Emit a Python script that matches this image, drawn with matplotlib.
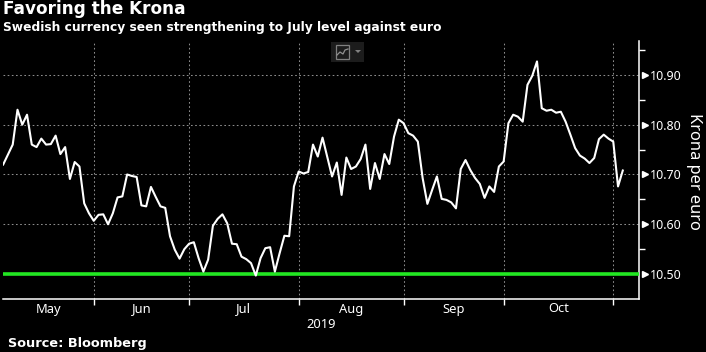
import matplotlib.pyplot as plt
import matplotlib.patches as patches
import pandas as pd

start_date = '2019-05-07'
krona = [10.72, 10.74, 10.76, 10.83, 10.80, 10.82, 10.76, 10.755, 10.772, 10.76,
         10.761, 10.778, 10.741, 10.755, 10.691, 10.725, 10.716, 10.642, 10.622, 10.607,
         10.619, 10.62, 10.60, 10.622, 10.654, 10.656, 10.70, 10.697, 10.695, 10.638,
         10.636, 10.675, 10.655, 10.636, 10.633, 10.576, 10.549, 10.531, 10.55, 10.561,
         10.564, 10.532, 10.505, 10.529, 10.597, 10.611, 10.62, 10.602, 10.561, 10.56,
         10.535, 10.53, 10.522, 10.497, 10.532, 10.552, 10.554, 10.505, 10.542, 10.577,
         10.576, 10.676, 10.706, 10.702, 10.705, 10.76, 10.736, 10.774, 10.735, 10.696,
         10.724, 10.659, 10.734, 10.711, 10.716, 10.731, 10.76, 10.671, 10.723, 10.691,
         10.741, 10.721, 10.776, 10.81, 10.803, 10.783, 10.778, 10.766, 10.693, 10.641,
         10.669, 10.696, 10.651, 10.649, 10.644, 10.632, 10.711, 10.729, 10.709, 10.693,
         10.681, 10.653, 10.676, 10.665, 10.716, 10.726, 10.803, 10.82, 10.816, 10.806,
         10.88, 10.898, 10.927, 10.833, 10.828, 10.83, 10.824, 10.826, 10.806, 10.78,
         10.753, 10.738, 10.732, 10.723, 10.733, 10.771, 10.78, 10.772, 10.766, 10.676,
         10.708]
target = 10.50
y_ticks = [10.50, 10.60, 10.70, 10.80, 10.90]
y_minor = [10.55, 10.65, 10.75, 10.85, 10.95]
month_starts = ['2019-06-01', '2019-07-01', '2019-08-01', '2019-09-01', '2019-10-01', '2019-11-01']
month_names = ['May', 'Jun', 'Jul', 'Aug', 'Sep', 'Oct']

dates = pd.bdate_range(start_date, periods=len(krona))
x = list(range(len(krona)))
month_pos = [int(dates.searchsorted(pd.Timestamp(m))) for m in month_starts]

W, H = 706, 352
fig = plt.figure(figsize=(W / 100, H / 100), dpi=100, facecolor='black')
ax = fig.add_axes([3 / W, 1 - 299 / H, 636 / W, 258 / H], facecolor='black')

ax.grid(True, color='#8c8c8c', linestyle=(0, (1.6, 2.4)), linewidth=0.75)
ax.set_axisbelow(True)
ax.axhline(target, color='#22e622', linewidth=2.6, zorder=3)
ax.plot(x, krona, color='white', linewidth=1.5, zorder=4)

ax.set_xlim(-0.04, 133.4)
ax.set_ylim(10.45, 10.968)

for s in ['top', 'left']:
    ax.spines[s].set_visible(False)
for s in ['bottom', 'right']:
    ax.spines[s].set_color('white')
    ax.spines[s].set_linewidth(1.1)

ax.set_xticks(month_pos)
ax.set_xticklabels([])
ax.tick_params(axis='x', color='white', length=4, width=1)
ax.yaxis.tick_right()
ax.set_yticks(y_ticks)
ax.set_yticklabels(['%.2f' % v for v in y_ticks], color='white', fontsize=9, family='Noto Sans')
ax.set_yticks(y_minor, minor=True)
ax.tick_params(axis='y', which='major', color='white', length=0, pad=7.5)
ax.tick_params(axis='y', which='minor', color='white', length=4, width=1)

# little arrow heads on the major y ticks
ax.plot([1.009] * len(y_ticks), y_ticks, marker='>', color='white', markersize=5, linestyle='none',
        transform=ax.get_yaxis_transform(), clip_on=False, zorder=5)

def px(xp, yp):
    return xp / W, 1 - yp / H

edges = [0] + month_pos
for i, name in enumerate(month_names):
    mid = (edges[i] + edges[i + 1]) / 2
    ax.text(mid, -10 / 258, name, color='white', fontsize=9.3, family='Noto Sans', ha='center', va='center',
            transform=ax.get_xaxis_transform())

fig.text(*px(321, 325), '2019', color='white', fontsize=9.3, family='Noto Sans', ha='center', va='center')
fig.text(*px(694, 171), 'Krona per euro', color='white', fontsize=11.8, family='Noto Sans',
         rotation=-90, ha='center', va='center')
fig.text(*px(3, 9), 'Favoring the Krona', color='white', fontsize=12.2, fontweight='bold', ha='left', va='center')
fig.text(*px(3, 27), 'Swedish currency seen strengthening to July level against euro', color='white',
         fontsize=8.85, fontweight='bold', ha='left', va='center')
fig.text(*px(8, 344), 'Source: Bloomberg', color='white', fontsize=9.3, fontweight='bold', ha='left', va='center')

# chart-type widget at the top of the plot
fig.add_artist(patches.Rectangle(px(331, 62), 33 / W, 20 / H, transform=fig.transFigure, facecolor='#1c1c1c',
                                 edgecolor='none'))
fig.add_artist(patches.Rectangle(px(335.5, 58.5), 13.5 / W, 13.5 / H, transform=fig.transFigure, facecolor='none',
                                 edgecolor='#808080', linewidth=0.9))
fig.add_artist(plt.Line2D([p / W for p in (337, 340, 343, 345, 348)], [1 - p / H for p in (55, 52, 54, 50, 49)],
                          color='#909090', linewidth=0.9, transform=fig.transFigure))
fig.add_artist(patches.Polygon([px(355, 50), px(361, 50), px(358, 53)], transform=fig.transFigure,
                               facecolor='#808080', edgecolor='none'))

fig.savefig('out.png', dpi=100, facecolor='black')
